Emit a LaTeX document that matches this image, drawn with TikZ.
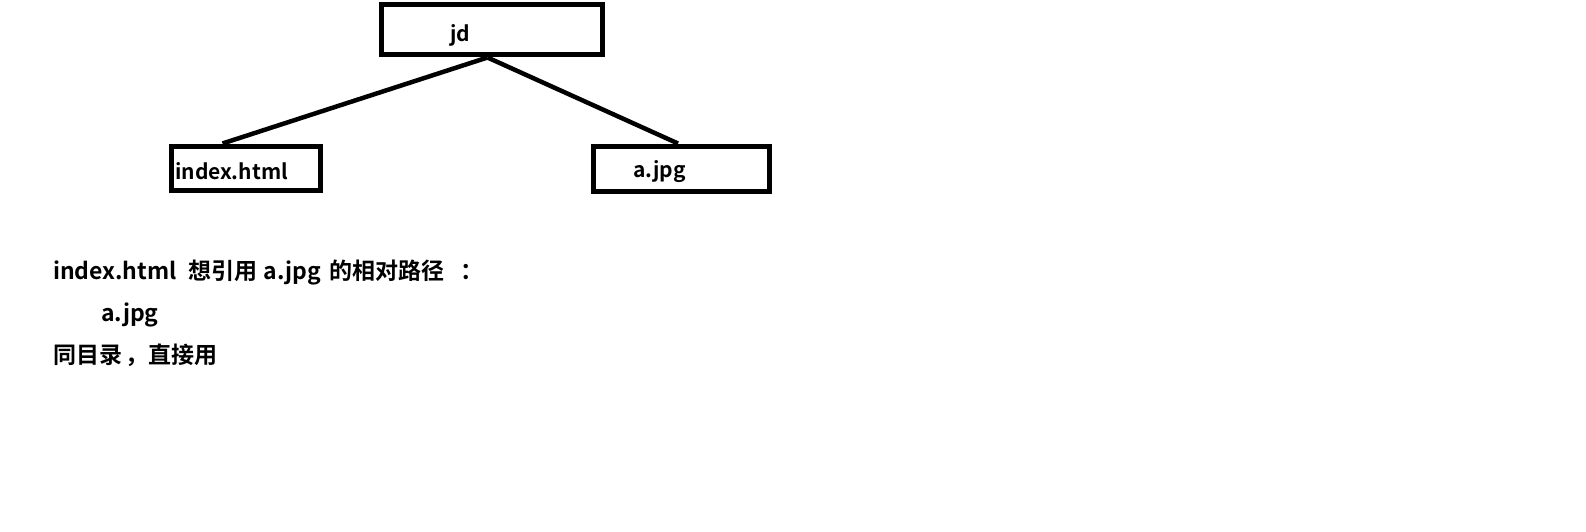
\documentclass[tikz,border=0pt]{standalone}
\usepackage{fontspec}
\setmainfont{Noto Sans CJK SC}[BoldFont={Noto Sans CJK SC Bold}]
\begin{document}
\begin{tikzpicture}[x=1pt,y=-1pt,
  box/.style={draw=black,line width=5pt,minimum width=#1,inner sep=0pt},
  conn/.style={line width=4.5pt},
  lbl/.style={anchor=base west,inner sep=0pt,font=\fontsize{21}{24}\selectfont\bfseries},
  txt/.style={anchor=base west,inner sep=0pt,font=\fontsize{23}{26}\selectfont\bfseries}]
\useasboundingbox (0,0) rectangle (1586,532);
\node[box=221pt,minimum height=50pt] (jd) at (491.5,30) {};
\node[box=149pt,minimum height=44pt] (idx) at (245.5,168) {};
\node[box=176pt,minimum height=45pt] (ajpg) at (681,168.5) {};
\node[lbl] (tjd) at (450,42) {jd};
\node[lbl] (tidx) at (175,179) {index.html};
\node[lbl] (ta) at (633,177) {a.jpg};
\draw[conn] ([xshift=-4pt]jd.south) -- ([xshift=-23pt]idx.north);
\draw[conn] ([xshift=-4pt]jd.south) -- ([xshift=-3pt]ajpg.north);
\node[txt] (l1) at (53,279) {index.html\hspace{12pt}想引用\hspace{6pt}a.jpg\hspace{8pt}的相对路径\hspace{16pt}：};
\node[txt] (l2) at (101,321) {a.jpg};
\node[txt] (l3) at (53,363) {同目录\hspace{3pt}，直接用};
\end{tikzpicture}
\end{document}
